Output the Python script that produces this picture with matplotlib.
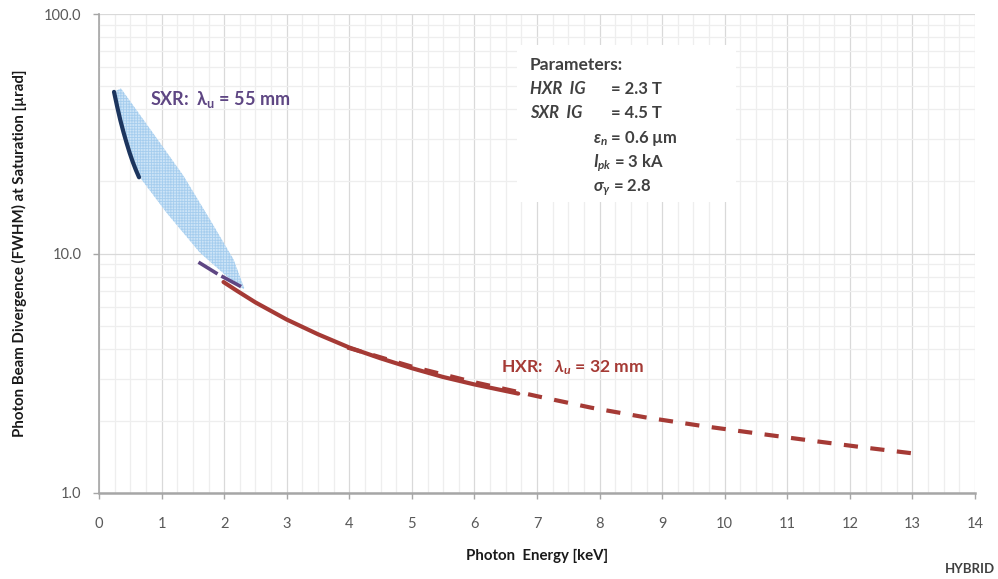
import numpy as np
import matplotlib
matplotlib.use('Agg')
import matplotlib.pyplot as plt
import matplotlib.patches as patches
from matplotlib.ticker import MultipleLocator, LogLocator, FuncFormatter, NullFormatter

plt.rcParams['font.family'] = ['Lato', 'DejaVu Sans']
plt.rcParams['mathtext.fontset'] = 'custom'
plt.rcParams['mathtext.rm'] = 'Lato:bold'
plt.rcParams['mathtext.it'] = 'Lato:italic:bold'
plt.rcParams['mathtext.bf'] = 'Lato:bold'
plt.rcParams['hatch.linewidth'] = 0.6

# SXR, solid (dark blue)
sxr_x = [0.24, 0.29, 0.34, 0.39, 0.44, 0.49, 0.54, 0.59, 0.64]
sxr_y = [47.3, 41.1, 36.1, 32.2, 29.0, 26.3, 24.1, 22.3, 20.8]
# SXR, dashed (purple)
sxr_dash_x = [1.59, 1.91, 2.31]
sxr_dash_y = [9.2, 8.17, 7.18]
# SXR shaded band, upper and lower edge
band_up_x = [0.35, 0.82, 1.35, 1.77, 2.15, 2.32]
band_up_y = [48.9, 33.0, 21.1, 13.9, 9.44, 7.18]
band_lo_x = [0.24, 0.44, 0.66, 1.08, 1.61, 2.04, 2.31]
band_lo_y = [47.3, 28.1, 20.7, 14.8, 10.1, 8.04, 7.1]
# HXR, solid (red)
hxr_x = [1.99, 2.2, 2.5, 3.0, 3.5, 4.0, 4.5, 5.0, 5.5, 6.0, 6.7]
hxr_y = [7.6, 7.0, 6.25, 5.3, 4.6, 4.05, 3.65, 3.32, 3.05, 2.84, 2.6]
# HXR, dashed (red)
hxr_dash_x = [3.97, 5.0, 6.0, 7.02, 7.87, 8.73, 9.61, 10.47, 11.34, 12.22, 13.04]
hxr_dash_y = [4.05, 3.37, 2.9, 2.53, 2.27, 2.07, 1.91, 1.78, 1.66, 1.55, 1.46]

param_title = 'Parameters:'
param_ig = [('HXR  IG', '= 2.3 T'), ('SXR  IG', '= 4.5 T')]
param_beam = [r'$\varepsilon_n$ = 0.6 µm', r'$I_{pk}$ = 3 kA', r'$\sigma_\gamma$ = 2.8']

W, H = 998, 579
def fx(px):
    return px / W
def fy(py):
    return 1 - py / H

fig = plt.figure(figsize=(W / 100, H / 100), dpi=100)
ax = fig.add_axes([fx(99), fy(493), 876 / W, 479 / H])

navy = '#1c355e'
purple = '#5e4683'
red = '#a53a35'

band = np.vstack([np.column_stack([band_up_x, band_up_y]),
                  np.column_stack([band_lo_x, band_lo_y])[::-1]])
ax.add_patch(patches.Polygon(band, closed=True, facecolor='#cde4f7',
                             edgecolor='#a5cdee', linewidth=0, hatch='++++++', zorder=2))

ax.plot(sxr_x, sxr_y, color=navy, lw=3, solid_capstyle='round', zorder=4)
ax.plot(sxr_dash_x, sxr_dash_y, color=purple, lw=2.6, dashes=(6.2, 1.2),
        dash_capstyle='butt', zorder=4)
ax.plot(hxr_dash_x, hxr_dash_y, color=red, lw=3, dashes=(3.4, 3.0), zorder=3)
ax.plot(hxr_x, hxr_y, color=red, lw=3, solid_capstyle='round', zorder=4)

ax.set_xlim(0, 14)
ax.set_yscale('log')
ax.set_ylim(1, 100)
ax.xaxis.set_major_locator(MultipleLocator(1))
ax.xaxis.set_minor_locator(MultipleLocator(0.25))
ax.yaxis.set_major_locator(LogLocator(base=10, numticks=5))
ax.yaxis.set_minor_locator(LogLocator(base=10, subs=np.arange(2, 10), numticks=20))
ax.yaxis.set_major_formatter(FuncFormatter(lambda v, p: f'{v:.1f}'))
ax.yaxis.set_minor_formatter(NullFormatter())
ax.set_axisbelow(True)
ax.grid(which='major', color='#d9d9d9', lw=0.9)
ax.grid(which='minor', color='#eeeeee', lw=0.9)
ax.tick_params(which='minor', length=0)
ax.tick_params(which='major', length=4.5, width=1, color='#a6a6a6',
               labelcolor='#595959', labelsize=10.5)
ax.tick_params(axis='x', pad=13)
ax.tick_params(axis='y', pad=8)
for s in ['top', 'right']:
    ax.spines[s].set_visible(False)
ax.spines['left'].set_color('#a6a6a6')
ax.spines['left'].set_linewidth(1.2)
ax.spines['bottom'].set_color('#a6a6a6')
ax.spines['bottom'].set_linewidth(1.8)

ax.text(0.815, 44, r'SXR:  $\mathrm{\lambda}_\mathrm{u}$ = 55 mm', color=purple,
        fontsize=13, fontweight='bold', va='center', ha='left', zorder=5)
ax.text(6.42, 3.33, r'HXR:   $\lambda_u$ = 32 mm', color=red,
        fontsize=12.6, fontweight='bold', va='center', ha='left', zorder=5)

# white parameter box
ax.add_patch(patches.Rectangle((fx(517), fy(202)), (736 - 517) / W, (202 - 45) / H,
                               transform=fig.transFigure, facecolor='white',
                               edgecolor='none', zorder=1, clip_on=False))
tc = '#404040'
fig.text(fx(530), fy(69.5), param_title, color=tc, fontsize=12.5, fontweight='bold', va='baseline')
for i, (name, val) in enumerate(param_ig):
    yb = fy(94 + 24 * i)
    fig.text(fx(530), yb, name, color=tc, fontsize=12, fontweight='bold',
             fontstyle='italic', va='baseline')
    fig.text(fx(611), yb, val, color=tc, fontsize=12, fontweight='bold', va='baseline')
for i, s in enumerate(param_beam):
    fig.text(fx(593), fy(142.5 + 24.5 * i), s, color=tc, fontsize=12,
             fontweight='bold', va='baseline')

fig.text(fx(19), fy(253.5), 'Photon Beam Divergence (FWHM) at Saturation [µrad]',
         rotation=90, ha='center', va='center', fontsize=10.8, fontweight='bold', color='#1a1a1a')
fig.text(fx(537), fy(556), 'Photon  Energy [keV]', ha='center', va='center',
         fontsize=10.8, fontweight='bold', color='#1a1a1a')
fig.text(fx(995), fy(569), 'HYBRID', ha='right', va='center', fontsize=9.5,
         fontweight='bold', color='#404040')

fig.savefig('out.png', dpi=100)
